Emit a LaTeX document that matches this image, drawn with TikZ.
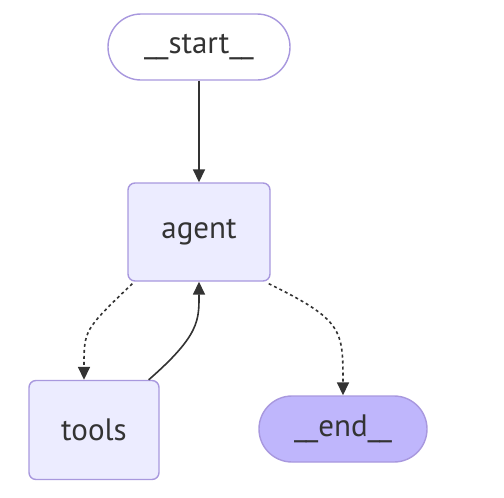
\documentclass[tikz,border=0pt]{standalone}
\usepackage{fontspec}
\setmainfont{PT Sans}
\usetikzlibrary{arrows.meta, positioning, calc}
\definecolor{nodefill}{HTML}{ECECFF}
\definecolor{nodeline}{HTML}{A898DE}
\definecolor{endfill}{HTML}{BFB6FC}
\definecolor{ink}{HTML}{333333}
\begin{document}
\begin{tikzpicture}[
    x=1pt, y=-1pt,
    >={Triangle[length=13pt, width=12pt]},
    box/.style={draw=nodeline, fill=nodefill, line width=1.4pt, rounded corners=7pt, minimum width=142pt, minimum height=98pt, text=ink, font=\fontsize{31}{36}\selectfont},
    pill/.style={draw=nodeline, line width=1.4pt, rounded corners=33pt, minimum height=66pt, text=ink, font=\fontsize{31}{36}\selectfont},
    solid edge/.style={->, ink, line width=1.6pt},
    cond edge/.style={->, ink, line width=1.6pt, dash pattern=on 3pt off 3pt},
  ]
    \useasboundingbox (0,0) rectangle (504,498);
    % ===== ノード =====
    \node[pill, fill=white, minimum width=182pt] (start) at (199, 47)  {\_\kern-1pt\_start\_\kern-1pt\_};
    \node[box]                                  (agent) at (199, 232) {agent};
    \node[box, minimum width=130pt, minimum height=99pt] (tools) at (94, 430) {tools};
    \node[pill, fill=endfill, minimum width=168pt]       (end)   at (343, 429) {\_\kern-1pt\_end\_\kern-1pt\_};

    % ===== エッジ =====
    \draw[solid edge] (start) -- (agent);
    \draw[cond edge] ($(agent.south west)+(5,2)$) .. controls (84, 330) and (84, 330) .. (tools.north -| 84, 0);
    \draw[solid edge] ($(tools.north east)+(-11,0)$) .. controls (200, 335) and (199, 320) .. (agent.south);
    \draw[cond edge] ($(agent.south east)+(-2,2)$) .. controls (343, 320) and (343, 330) .. (end.north);
  \end{tikzpicture}
\end{document}
